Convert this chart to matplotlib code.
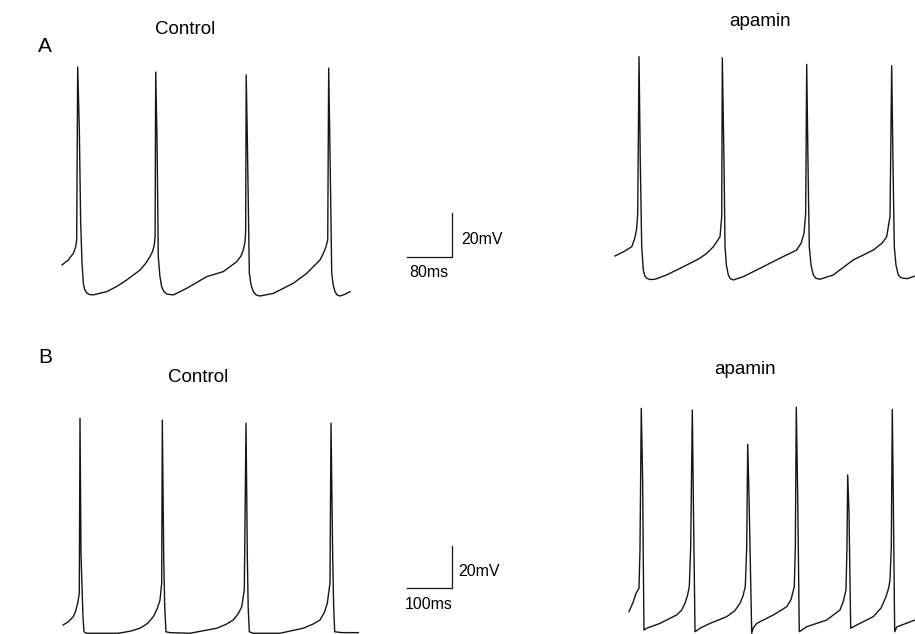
import matplotlib
matplotlib.use('Agg')
import matplotlib.pyplot as plt

plt.rcParams['font.family'] = ['Liberation Sans', 'DejaVu Sans']

W, H = 915, 634

# membrane potential traces: time (ms), voltage (mV)
a_ctrl_t = [0, 11.2, 20.1, 24.4, 26.1, 27.9, 30.8, 33.2, 35.6, 37.9, 40, 43.9, 48.9, 55.6, 79.5, 97, 115,
            138.7, 149.3, 156.4, 160.9, 164.1, 165.5,
            166.6, 168.9, 171.2, 174, 177.2, 181, 186.1, 197.9, 221.7, 257.2, 286.8, 310.6, 318, 322.3,
            325.3, 326.5,
            327.5, 329.8, 333, 336, 340.1, 345, 352, 375.7, 411.2, 435, 458.7, 465, 469.3, 472.4,
            474.1, 476.4, 479.5, 482, 485.3, 489, 494.2, 503, 512]
a_ctrl_mv = [-60, -57.7, -54.7, -51.7, -48.6, 30, 1.4, -40.9, -59.1, -68.2, -70.9, -72.7, -73.4, -73.6, -72.1, -69.8, -66.8,
             -62.3, -59.1, -56.2, -53.9, -50.9, -47,
             27.7, -3.2, -56.2, -65, -69.9, -72, -73.2, -73.6, -70.6, -65.3, -63.0, -58.5, -56, -53.2,
             -49.5, -45,
             26.4, -7.7, -63.6, -69, -72.1, -73.6, -74.1, -72.9, -68.3, -63.8, -57.7, -54.5, -51.7, -48.6,
             29.5, -7.7, -63.6, -69, -72.1, -73.6, -74.1, -73.3, -72.1]

a_apa_t = [0, 15, 29.7, 35, 38.6, 40.4, 42.7, 45, 47.5, 50.3, 53, 56.4, 62, 71.1, 91.9, 121.4, 151.1, 164,
           174.8, 182, 186.7, 189.7,
           190.8, 193.8, 195.6, 198, 201.4, 205, 210.3, 228.1, 257.8, 293.3, 323, 331, 336, 339,
           340.8, 343.1, 345.4, 348.5, 352.5, 357, 364.4, 388.1, 423.6, 459.2, 475, 483, 488.9,
           491.9, 494.2, 496.5, 499.5, 503.6, 508, 512.5, 520, 533.3]
a_apa_mv = [-55.9, -54, -51.7, -48, -43.3, -36.5, 34.7, -13.8, -51.7, -62.3, -65, -66.0, -66.6, -66.5, -64.5, -60.8, -56.9, -54.5,
            -51.7, -49, -47.1, -38.0,
            34.2, -13.8, -51.7, -60, -64.5, -66.2, -66.8, -65.3, -61.5, -56.9, -53.2, -50, -45.6, -36.5,
            31.2, -13.8, -51.7, -60, -64.5, -66, -66.5, -64.5, -57.7, -53.2, -50, -47.1, -38.0,
            30.6, -13.8, -51.7, -60, -64.5, -65.7, -66.0, -66.2, -65.0]

b_ctrl_t = [0, 12, 22.9, 28, 32.7, 36.2, 37.8, 40, 42.9, 44.5, 46.7, 52, 67.3, 122.9, 150, 171.1, 188,
            200.7, 209, 215.6, 219.3,
            220.7, 223.8, 226, 228.9, 237.8, 282.2, 341.6, 362, 378.4, 390, 397.1, 402.9,
            406.7, 409.6, 411.5, 414, 422.9, 482.2, 534, 555, 571.1, 581, 587.3, 593.3,
            595.6, 599.3, 601.5, 603.8, 619.3, 656.2]
b_ctrl_mv = [-68.6, -67, -64.6, -62, -58.2, -53.5, 29.9, -34.4, -55.1, -65, -71.8, -72.5, -72.5, -72.5, -71.5, -70.1, -67.8,
             -64.6, -61, -56.7, -48.7,
             29.0, -36.0, -60, -71.8, -72.2, -72.5, -70.1, -68.3, -66.2, -63, -59.9, -51.9,
             27.5, -36.0, -60, -71.8, -72.5, -72.5, -70.1, -68.2, -66.2, -62.5, -58.2, -48.7,
             27.5, -36.0, -60, -71.8, -72.2, -72.2]

b_apa_t = [0, 9.6, 15.6, 22.2, 24.4, 27.3, 30.4, 31.8, 33.3, 39.3, 68.9, 90, 106, 117, 124.4, 130, 134, 137.1,
           140.7, 142.9, 146.7, 157.8, 180, 217.1, 235, 246.7, 253, 258.4, 261.6,
           263.8, 266.7, 272.7, 276, 283.8, 320.7, 350.4, 360, 367.3, 369.6,
           371.8, 374.9, 378.4, 394.9, 439.3, 468.9, 476, 482.2, 484.4,
           486, 488.9, 492.7, 506, 542.9, 560, 571.1, 577, 580, 582.9,
           585.1, 587.3, 590.4, 595, 606, 635.6]
b_apa_mv = [-62.2, -57.5, -53.5, -51.1, -32.9, 34.6, -1.1, -39.2, -71.0, -70.1, -67.8, -65.5, -63.8, -61.5, -58.2, -54.5, -50.3, -31.3,
            33.8, -7.5, -71.8, -70.1, -67.8, -64.6, -61.8, -58.2, -55, -50.3, -31.3,
            17.5, -7.5, -72.5, -70, -67.8, -63.8, -59.9, -56.5, -50.3, -31.3,
            35.1, -7.5, -71.8, -69.4, -66.2, -61.4, -57.5, -51.9, -31.3,
            2.9, -15.4, -70.1, -68.6, -64.6, -60.5, -55.1, -51, -47.1, -31.3,
            34.1, -7.5, -71.8, -69.5, -68.6, -66.2]

# scale bars
bar_mv = 20
bar_ms_a = 80
bar_ms_b = 100

fig = plt.figure(figsize=(W / 100, H / 100), dpi=100)


def px_axes(x0, y0, x1, y1, xlim, ylim):
    ax = fig.add_axes([x0 / W, 1 - y1 / H, (x1 - x0) / W, (y1 - y0) / H])
    ax.set_xlim(*xlim)
    ax.set_ylim(*ylim)
    ax.set_axis_off()
    return ax


def trace(ax, t, mv):
    ax.plot(t, mv, color='#151515', lw=1.0, clip_on=False, solid_joinstyle='round')


def scalebar(ax, t0, v0, ms, mv, lab_ms, lab_mv, tx_ms, vy_ms, tx_mv, vy_mv):
    ax.plot([t0, t0 + ms, t0 + ms], [v0, v0, v0 + mv], color='#151515', lw=0.9, clip_on=False)
    ax.text(tx_ms, vy_ms, lab_ms, ha='center', va='center', fontsize=11.5)
    ax.text(tx_mv, vy_mv, lab_mv, ha='left', va='center', fontsize=11.5)


# row A
ax = px_axes(50.75, 45, 467, 309, (-20, 720), (-80, 40))
trace(ax, a_ctrl_t, a_ctrl_mv)
scalebar(ax, 612.8, -56.2, bar_ms_a, bar_mv, '%dms' % bar_ms_a, '%dmV' % bar_mv,
         651.6, -63.6, 709.3, -48.5)

ax = px_axes(603.75, 45, 915, 309, (-20, 533.33), (-80, 40))
trace(ax, a_apa_t, a_apa_mv)

# row B
ax = px_axes(54, 397, 459, 640.6, (-20, 880), (-76, 40))
trace(ax, b_ctrl_t, b_ctrl_mv)
scalebar(ax, 763.8, -51.1, bar_ms_b, bar_mv, '%dms' % bar_ms_b, '%dmV' % bar_mv,
         812.9, -58.9, 878.4, -42.9)

ax = px_axes(620, 397, 915, 640.6, (-20, 635.56), (-76, 40))
trace(ax, b_apa_t, b_apa_mv)

# labels
fig.text(45 / W, 1 - 46 / H, 'A', fontsize=15, ha='center', va='center')
fig.text(45 / W, 1 - 357 / H, 'B', fontsize=15, ha='center', va='center')
fig.text(185.5 / W, 1 - 30 / H, 'Control', fontsize=13.5, ha='center', va='center')
fig.text(760.5 / W, 1 - 22 / H, 'apamin', fontsize=13.5, ha='center', va='center')
fig.text(198 / W, 1 - 377.5 / H, 'Control', fontsize=13.5, ha='center', va='center')
fig.text(745.5 / W, 1 - 370 / H, 'apamin', fontsize=13.5, ha='center', va='center')

fig.savefig('out.png', dpi=100, facecolor='white')
